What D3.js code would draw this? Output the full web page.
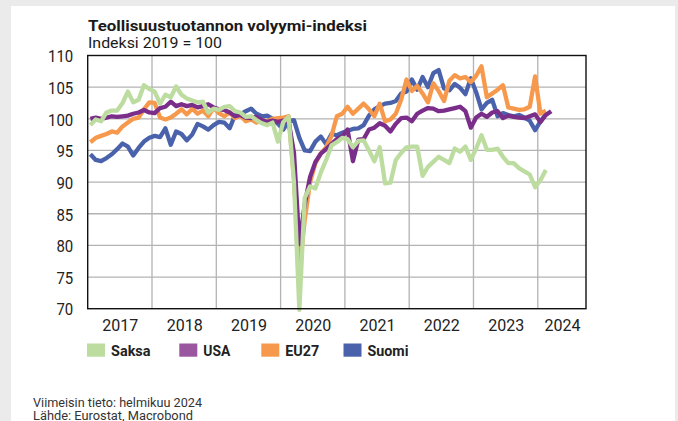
<!DOCTYPE html>
<html><head><meta charset="utf-8">
<script src="https://cdn.jsdelivr.net/npm/d3@7"></script>
<style>html,body{margin:0;padding:0;background:#ebebeb;} svg{display:block;}</style>
</head><body><svg id="c" width="678" height="421"></svg>
<script>
// Monthly values, Jan 2017 onwards (index 2019 = 100)
const saksa = [99.0, 99.9, 99.6, 101.0, 101.3, 101.3, 102.5, 104.3, 102.6, 103.0, 105.3, 104.7,
  104.3, 102.4, 103.8, 103.4, 105.1, 103.8, 103.2, 102.9, 102.6, 102.7, 101.0, 101.6,
  101.4, 101.9, 102.0, 101.2, 101.0, 100.3, 100.4, 99.8, 99.3, 99.0, 99.4, 96.4,
  99.5, 100.3, 90.0, 69.8, 87.5, 89.3, 89.0, 91.5, 93.5, 95.8, 96.3, 97.0,
  96.8, 95.5, 96.5, 96.6, 95.0, 93.3, 95.5, 89.8, 89.9, 93.5, 94.6, 95.5,
  95.6, 95.6, 91.0, 92.4, 93.2, 94.0, 93.5, 93.0, 95.3, 94.8, 95.6, 93.5,
  95.3, 97.4, 95.1, 95.1, 95.3, 94.0, 93.0, 93.0, 92.2, 91.7, 91.2, 89.2,
  90.3, 91.9];
const usa = [100.0, 100.2, 100.0, 100.2, 100.4, 100.3, 100.4, 100.5, 100.8, 101.0, 101.4, 101.0,
  100.9, 101.7, 101.9, 102.7, 102.0, 102.3, 102.0, 102.2, 101.8, 102.0, 102.3, 101.8,
  101.5, 101.4, 101.0, 100.4, 100.6, 100.2, 100.1, 100.3, 99.8, 99.5, 99.7, 99.5,
  99.7, 99.6, 94.6, 80.2, 86.5, 90.8, 93.2, 94.5, 95.2, 96.0, 96.8, 97.2,
  98.3, 93.3, 96.7, 96.8, 98.3, 98.6, 99.3, 98.9, 98.0, 99.2, 100.1, 100.2,
  99.6, 100.8, 101.3, 101.7, 101.6, 101.2, 101.3, 101.5, 101.7, 101.9, 101.2, 98.6,
  100.2, 100.8, 100.3, 101.0, 101.2, 100.1, 100.5, 100.3, 100.2, 100.1, 100.4, 100.7,
  99.5, 100.6, 101.2];
const eu27 = [96.3, 97.0, 97.3, 97.6, 98.0, 97.8, 98.8, 99.4, 100.0, 100.2, 101.5, 102.6,
  102.5, 100.2, 99.9, 100.2, 100.8, 101.5, 100.7, 101.6, 100.8, 101.3, 100.4, 101.7,
  100.9, 100.4, 101.0, 100.1, 100.5, 99.6, 99.9, 99.4, 99.8, 99.6, 100.0, 100.1,
  100.2, 100.4, 90.5, 75.8, 84.0, 90.0, 93.0, 94.5, 95.5, 97.3, 100.4, 100.8,
  101.9, 100.8, 101.6, 102.4, 101.5, 100.4, 102.4, 99.6, 99.9, 100.8, 103.0, 106.2,
  104.4, 105.2, 104.0, 102.6, 105.6, 104.4, 102.8, 106.0, 106.9, 106.4, 106.6, 105.8,
  106.8, 108.3, 103.4, 104.0, 104.6, 105.3, 101.8, 101.6, 101.4, 101.5, 101.9, 106.7,
  100.8, 101.3];
const suomi = [94.4, 93.5, 93.3, 93.8, 94.4, 95.2, 96.1, 95.6, 94.2, 95.4, 96.4, 97.0,
  97.3, 97.1, 98.5, 95.9, 98.0, 97.6, 96.6, 97.5, 99.2, 98.8, 98.3, 99.0,
  99.5, 99.4, 98.5, 100.6, 100.7, 101.2, 101.6, 100.8, 100.4, 100.5, 100.0, 99.2,
  98.3, 99.6, 99.8, 97.0, 95.0, 94.9, 96.4, 97.2, 96.0, 97.6, 97.4, 97.8,
  98.1, 98.4, 98.5, 99.0, 100.5, 101.5, 102.0, 102.4, 102.5, 102.8, 104.0, 104.3,
  106.2, 104.6, 106.6, 105.0, 107.2, 107.7, 104.8, 104.5, 105.5, 104.9, 103.9, 106.4,
  104.2, 101.5, 102.5, 103.0, 100.4, 100.9, 100.6, 100.4, 100.6, 100.2, 99.7, 98.2,
  99.6, 100.7];

const seriesNames = ["Saksa", "USA", "EU27", "Suomi"];
const yearLabels = ["2017", "2018", "2019", "2020", "2021", "2022", "2023", "2024"];
const yTicks = [70, 75, 80, 85, 90, 95, 100, 105, 110];
const titleText = "Teollisuustuotannon volyymi-indeksi";
const subtitleText = "Indeksi 2019 = 100";
const footerLines = ["Viimeisin tieto: helmikuu 2024", "Lähde: Eurostat, Macrobond"];

const W = 678, H = 421;
const FONT = "Roboto, 'DejaVu Sans', sans-serif";
const lineColors = {Saksa: "#bddc9f", USA: "#7a2e8a", EU27: "#f7994c", Suomi: "#4a62ab"};
const swatchColors = {Saksa: "#bddc9f", USA: "#9b56a0", EU27: "#f7994c", Suomi: "#4a62ab"};
const dataByName = {Saksa: saksa, USA: usa, EU27: eu27, Suomi: suomi};

const svg = d3.select("#c");
svg.append("rect").attr("width", W).attr("height", H).attr("fill", "#ebebeb");
svg.append("rect").attr("x", 11).attr("y", 6).attr("width", 664).attr("height", H - 6).attr("fill", "#ffffff");

const P = {l: 87.7, t: 55.5, r: 586, b: 308.7};
const x = d3.scaleLinear().domain([0, 93]).range([P.l, P.r]);   // months since Jan 2017
const y = d3.scaleLinear().domain([70, 110]).range([P.b, P.t]);

// grid
const g = svg.append("g");
g.selectAll("line.h").data(yTicks.filter(v => v > 70 && v < 110)).join("line")
  .attr("x1", P.l).attr("x2", P.r).attr("y1", d => y(d)).attr("y2", d => y(d))
  .attr("stroke", "#b3b3b3").attr("stroke-width", 1.3);
g.selectAll("line.v").data(yearLabels.slice(1).map((d, i) => (i + 1) * 12)).join("line")
  .attr("x1", d => x(d)).attr("x2", d => x(d)).attr("y1", P.t).attr("y2", P.b)
  .attr("stroke", "#b3b3b3").attr("stroke-width", 1.3);

// lines
const line = d3.line().x((d, i) => x(i + 0.5)).y(d => y(d));
["Suomi", "EU27", "USA", "Saksa"].forEach(name => {
  svg.append("path").datum(dataByName[name]).attr("d", line)
    .attr("fill", "none").attr("stroke", lineColors[name]).attr("stroke-width", 4.3)
    .attr("stroke-linejoin", "round");
});

// frame
svg.append("rect").attr("x", P.l).attr("y", P.t).attr("width", P.r - P.l).attr("height", P.b - P.t)
  .attr("fill", "none").attr("stroke", "#111").attr("stroke-width", 1.4);

// y axis
const yAxis = svg.append("g").attr("transform", `translate(${P.l},0)`)
  .call(d3.axisLeft(y).tickValues(yTicks).tickSize(0).tickPadding(14.5).tickFormat(d3.format("d")));
yAxis.select(".domain").remove();
yAxis.selectAll("text").attr("font-family", FONT).attr("font-size", 16).attr("fill", "#222")
  .attr("dy", "0.39em")
  .attr("textLength", d => String(d).length * 8.4).attr("lengthAdjust", "spacingAndGlyphs");

// x axis
const xTickPos = yearLabels.map((d, i) => i < yearLabels.length - 1 ? i * 12 + 6 : (i * 12 + 93) / 2);
const xAxis = svg.append("g").attr("transform", `translate(0,${P.b})`)
  .call(d3.axisBottom(x).tickValues(xTickPos).tickSize(0).tickPadding(10.6)
    .tickFormat((d, i) => yearLabels[i]));
xAxis.select(".domain").remove();
xAxis.selectAll("text").attr("font-family", FONT).attr("font-size", 16).attr("fill", "#222")
  .attr("textLength", 36).attr("lengthAdjust", "spacingAndGlyphs");

// titles
svg.append("text").text(titleText).attr("x", 88).attr("y", 31.2)
  .attr("font-family", FONT).attr("font-weight", "bold").attr("font-size", 15).attr("fill", "#1a1a1a")
  .attr("textLength", 279).attr("lengthAdjust", "spacingAndGlyphs");
svg.append("text").text(subtitleText).attr("x", 88).attr("y", 48.2)
  .attr("font-family", FONT).attr("font-size", 14).attr("fill", "#1a1a1a")
  .attr("textLength", 134).attr("lengthAdjust", "spacingAndGlyphs");

// legend
const legX = [87, 179.3, 261.3, 343.5];
const legW = [39.5, 27, 34, 41];
const leg = svg.append("g");
seriesNames.forEach((name, i) => {
  leg.append("rect").attr("x", legX[i]).attr("y", 343.5).attr("width", 18).attr("height", 13.2)
    .attr("fill", swatchColors[name]);
  leg.append("text").text(name).attr("x", legX[i] + 24).attr("y", 356)
    .attr("font-family", FONT).attr("font-weight", "bold").attr("font-size", 15).attr("fill", "#222")
    .attr("textLength", legW[i]).attr("lengthAdjust", "spacingAndGlyphs");
});

// footer
const footW = [169, 160];
footerLines.forEach((t, i) => {
  svg.append("text").text(t).attr("x", 33).attr("y", 406.7 + i * 12.8)
    .attr("font-family", FONT).attr("font-size", 12).attr("fill", "#333")
    .attr("textLength", footW[i]).attr("lengthAdjust", "spacingAndGlyphs");
});
</script></body></html>
